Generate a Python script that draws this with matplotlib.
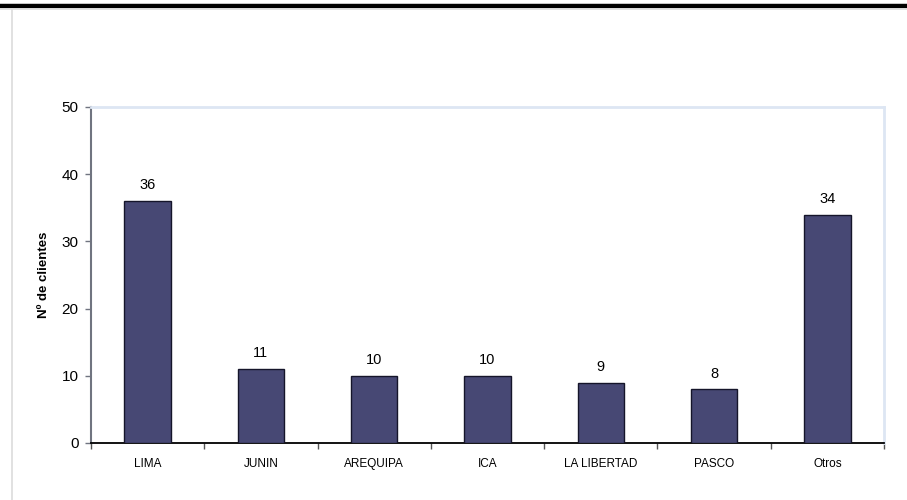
import matplotlib.pyplot as plt
from matplotlib.lines import Line2D
import numpy as np

plt.rcParams['font.family'] = ['Liberation Sans', 'DejaVu Sans']

regiones = ['LIMA', 'JUNIN', 'AREQUIPA', 'ICA', 'LA LIBERTAD', 'PASCO', 'Otros']
clientes = [36, 11, 10, 10, 9, 8, 34]

fig = plt.figure(figsize=(9.07, 5.0), dpi=100)

# marco de la hoja: linea negra arriba, lineas grises finas
fig.add_artist(Line2D([0, 1], [0.989, 0.989], color='black', lw=3.2))
fig.add_artist(Line2D([0, 1], [0.983, 0.983], color='#dcdcdc', lw=1.2))
fig.add_artist(Line2D([0.0135, 0.0135], [0, 0.983], color='#dcdcdc', lw=1.2))

ax = fig.add_axes([91 / 907, 57 / 500, 793 / 907, 336 / 500])
x = np.arange(len(regiones))
barras = ax.bar(x, clientes, width=0.41, color='#474874',
                edgecolor='#15152a', linewidth=1.0, zorder=3)
for xi, v in zip(x, clientes):
    ax.text(xi, v + 1.3, str(v), ha='center', va='bottom', fontsize=10.5)

ax.set_xlim(-0.5, len(regiones) - 0.5)
ax.set_ylim(0, 50)
ax.set_yticks(range(0, 51, 10))
ax.set_xticks(x)
ax.set_xticklabels(regiones, fontsize=8.5)
ax.set_xticks(np.arange(-0.5, len(regiones), 1), minor=True)
ax.tick_params(axis='x', which='major', length=0, pad=11)
ax.tick_params(axis='x', which='minor', length=4, width=1, color='#555555', direction='out')
ax.tick_params(axis='y', length=4, width=1, color='#707480', labelsize=11, pad=5)

ax.spines['left'].set_color('#707480')
ax.spines['left'].set_linewidth(1.5)
ax.spines['bottom'].set_color('black')
ax.spines['bottom'].set_linewidth(1.3)
ax.spines['top'].set_color('#dde6f3')
ax.spines['right'].set_color('#dde6f3')
ax.spines['top'].set_linewidth(2)
ax.spines['right'].set_linewidth(2)

ax.set_ylabel('Nº de clientes', fontsize=9.5, fontweight='bold', labelpad=8)

fig.savefig('out.png', dpi=100)
